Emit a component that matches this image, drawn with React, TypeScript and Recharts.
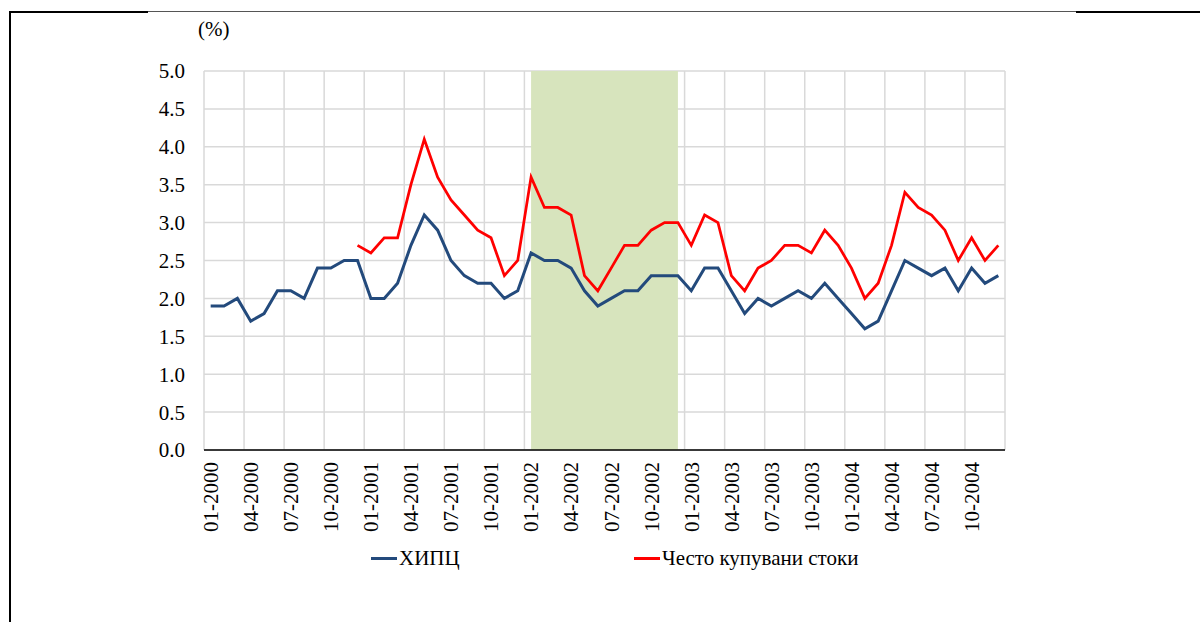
import {
  LineChart,
  Line,
  XAxis,
  YAxis,
  CartesianGrid,
  ReferenceArea,
  Legend,
} from 'recharts'

const TICK_LABELS = [
  '01-2000', '04-2000', '07-2000', '10-2000',
  '01-2001', '04-2001', '07-2001', '10-2001',
  '01-2002', '04-2002', '07-2002', '10-2002',
  '01-2003', '04-2003', '07-2003', '10-2003',
  '01-2004', '04-2004', '07-2004', '10-2004',
]

// monthly, 01-2000 .. 12-2004
const HICP = [
  1.9, 1.9, 2.0, 1.7, 1.8, 2.1, 2.1, 2.0, 2.4, 2.4, 2.5, 2.5,
  2.0, 2.0, 2.2, 2.7, 3.1, 2.9, 2.5, 2.3, 2.2, 2.2, 2.0, 2.1,
  2.6, 2.5, 2.5, 2.4, 2.1, 1.9, 2.0, 2.1, 2.1, 2.3, 2.3, 2.3,
  2.1, 2.4, 2.4, 2.1, 1.8, 2.0, 1.9, 2.0, 2.1, 2.0, 2.2, 2.0,
  1.8, 1.6, 1.7, 2.1, 2.5, 2.4, 2.3, 2.4, 2.1, 2.4, 2.2, 2.3,
]

const FREQUENT = [
  null, null, null, null, null, null, null, null, null, null, null, 2.7,
  2.6, 2.8, 2.8, 3.5, 4.1, 3.6, 3.3, 3.1, 2.9, 2.8, 2.3, 2.5,
  3.6, 3.2, 3.2, 3.1, 2.3, 2.1, 2.4, 2.7, 2.7, 2.9, 3.0, 3.0,
  2.7, 3.1, 3.0, 2.3, 2.1, 2.4, 2.5, 2.7, 2.7, 2.6, 2.9, 2.7,
  2.4, 2.0, 2.2, 2.7, 3.4, 3.2, 3.1, 2.9, 2.5, 2.8, 2.5, 2.7,
]

const Y_TICKS = [0, 0.5, 1, 1.5, 2, 2.5, 3, 3.5, 4, 4.5, 5]

// shaded period: 01-2002 .. 12-2002 (month index)
const SHADE_FROM = 24
const SHADE_TO = 35

const SERIES = [
  { key: 'hicp', name: 'ХИПЦ', color: '#234a7c' },
  { key: 'frequent', name: 'Често купувани стоки', color: '#ff0000' },
]

const data = HICP.map((v, i) => ({ idx: i, hicp: v, frequent: FREQUENT[i] }))
const labelTicks = TICK_LABELS.map((_, i) => i * 3)
const gridTicks = [...TICK_LABELS.map((_, i) => i * 3 - 0.5), HICP.length - 0.5]

const FONT = '"Liberation Serif", "Times New Roman", serif'

function MonthTick({ x, y, payload }: any) {
  return (
    <g transform={`translate(${x},${y})`}>
      <text
        transform="rotate(-90)"
        textAnchor="end"
        dy="0.35em"
        fill="#000"
        fontSize={21}
        fontFamily={FONT}
      >
        {TICK_LABELS[payload.value / 3]}
      </text>
    </g>
  )
}

function LegendBox() {
  const lefts = [371, 634]
  return (
    <div style={{ position: 'relative', height: 26, fontFamily: FONT, fontSize: 21 }}>
      {SERIES.map((s, i) => (
        <div
          key={s.key}
          style={{
            position: 'absolute',
            left: lefts[i],
            top: 0,
            display: 'flex',
            alignItems: 'center',
            whiteSpace: 'nowrap',
          }}
        >
          <span style={{ display: 'inline-block', width: 26, height: 3, background: s.color, marginRight: 2 }} />
          <span style={{ color: '#000' }}>{s.name}</span>
        </div>
      ))}
    </div>
  )
}

export default function App() {
  return (
    <div style={{ position: 'absolute', left: 0, top: 0, width: 1200, height: 622, background: '#fff' }}>
      {/* frame lines */}
      <div style={{ position: 'absolute', left: 9, top: 11, width: 2, height: 611, background: '#000' }} />
      <div style={{ position: 'absolute', left: 9, top: 11, width: 139, height: 2, background: '#000' }} />
      <div style={{ position: 'absolute', left: 148, top: 11, width: 928, height: 1, background: '#555' }} />
      <div style={{ position: 'absolute', left: 1076, top: 11, width: 124, height: 2, background: '#000' }} />
      <div
        style={{
          position: 'absolute',
          left: 198,
          top: 17,
          fontFamily: FONT,
          fontSize: 21,
          color: '#000',
        }}
      >
        (%)
      </div>
      <LineChart
        width={1200}
        height={622}
        data={data}
        margin={{ top: 71, right: 195, bottom: 82, left: 144 }}
      >
        <CartesianGrid
          xAxisId="grid"
          stroke="#d9d9d9"
          strokeWidth={1.5}
          horizontalValues={Y_TICKS}
        />
        <XAxis
          xAxisId="grid"
          type="number"
          dataKey="idx"
          domain={[-0.5, HICP.length - 0.5]}
          ticks={gridTicks}
          hide
        />
        <XAxis
          type="number"
          dataKey="idx"
          domain={[-0.5, HICP.length - 0.5]}
          ticks={labelTicks}
          interval={0}
          height={90}
          tickLine={false}
          tickSize={0}
          tickMargin={12}
          axisLine={{ stroke: '#000', strokeWidth: 1.5 }}
          tick={<MonthTick />}
        />
        <YAxis
          domain={[0, 5]}
          ticks={Y_TICKS}
          width={60}
          axisLine={false}
          tickLine={false}
          tickSize={0}
          tickMargin={19}
          tickFormatter={(v) => v.toFixed(1)}
          tick={{ fill: '#000', fontSize: 21, fontFamily: FONT }}
        />
        <ReferenceArea x1={SHADE_FROM} x2={SHADE_TO} fill="#d7e4bd" fillOpacity={1} stroke="none" />
        <Legend
          layout="horizontal"
          verticalAlign="middle"
          wrapperStyle={{ left: 0, top: 546, width: 1200 }}
          content={() => <LegendBox />}
        />
        {SERIES.map((s) => (
          <Line
            key={s.key}
            type="linear"
            dataKey={s.key}
            name={s.name}
            stroke={s.color}
            strokeWidth={s.key === 'hicp' ? 3 : 2.75}
            dot={false}
            activeDot={false}
            isAnimationActive={false}
          />
        ))}
      </LineChart>
    </div>
  )
}
